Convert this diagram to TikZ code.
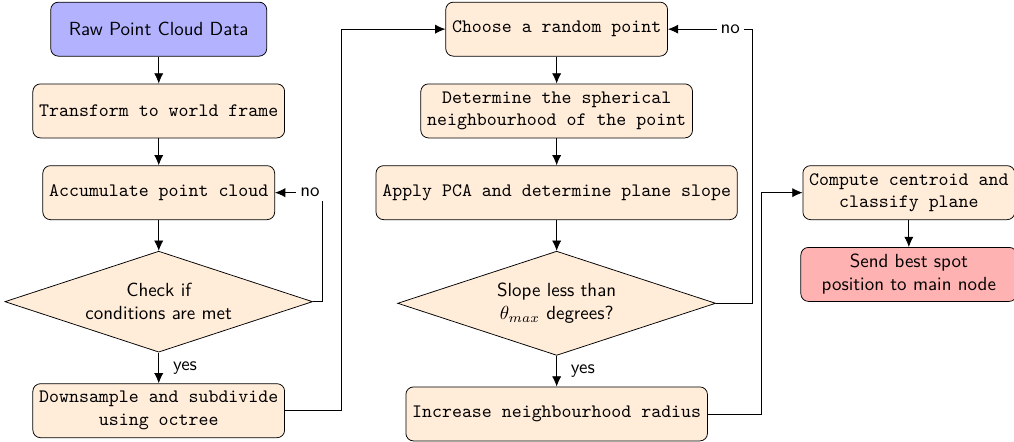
\documentclass[tikz,border=0pt]{standalone}
\usepackage{fontspec}
\usepackage{tikz}
\usetikzlibrary{positioning,shapes.geometric,arrows.meta}

\tikzset{
    startstop/.style={rectangle, rounded corners, draw, minimum width=4cm, minimum height=1cm, align=center, font=\sffamily},
    process/.style={rectangle, rounded corners, draw, fill=orange!15, minimum height=1cm, align=center, font=\ttfamily},
    decision/.style={diamond, draw, fill=orange!15, aspect=3, align=center, font=\sffamily, inner sep=1pt},
    arrow/.style={thin, -{Latex[length=1.9mm, width=1.7mm]}},
    lbl/.style={font=\sffamily, fill=white, inner sep=2pt}
}

\begin{document}
\begin{tikzpicture}[node distance=0.5cm]
\useasboundingbox (0,0) rectangle (18.78,-8.17);

% Left column
\node (raw) [startstop, fill=blue!30] at (2.94,-0.54) {Raw Point Cloud Data};
\node (transform) [process, below=of raw] {Transform to world frame};
\node (accum) [process, below=of transform] {Accumulate point cloud};
\node (check) [decision, minimum width=5.7cm, minimum height=1.87cm, below=0.57cm of accum] {Check if\\conditions are met};
\node (down) [process, below=0.57cm of check] {Downsample and subdivide\\using octree};

% Middle column
\node (choose) [process] at (10.31,-0.54) {Choose a random point};
\node (sphere) [process, below=of choose] {Determine the spherical\\neighbourhood of the point};
\node (pca) [process, below=of sphere] {Apply PCA and determine plane slope};
\node (slope) [decision, minimum width=5.89cm, minimum height=1.93cm, below=0.57cm of pca] {Slope less than\\$\theta_{max}$ degrees?};
\node (radius) [process, below=0.57cm of slope] {Increase neighbourhood radius};

% Right column
\node (centroid) [process, right=1.2cm of pca] {Compute centroid and\\classify plane};
\node (send) [startstop, fill=red!30, below=of centroid] {Send best spot\\position to main node};

% Arrows
\draw [arrow] (raw) -- (transform);
\draw [arrow] (transform) -- (accum);
\draw [arrow] (accum) -- (check);
\draw [arrow] (check) -- node[right=4pt, font=\sffamily] {yes} (down);
\draw [arrow] (check.east) -- ++(0.17,0) |- node[lbl, pos=0.63] {no} (accum.east);
\draw [arrow] (down.east) -- ++(1.04,0) |- (choose.west);

\draw [arrow] (choose) -- (sphere);
\draw [arrow] (sphere) -- (pca);
\draw [arrow] (pca) -- (slope);
\draw [arrow] (slope) -- node[right=4pt, font=\sffamily] {yes} (radius);
\draw [arrow] (slope.east) -- ++(0.67,0) |- node[lbl, pos=0.63] {no} (choose.east);
\draw [arrow] (radius.east) -- ++(1,0) |- (centroid.west);

\draw [arrow] (centroid) -- (send);

\end{tikzpicture}
\end{document}
